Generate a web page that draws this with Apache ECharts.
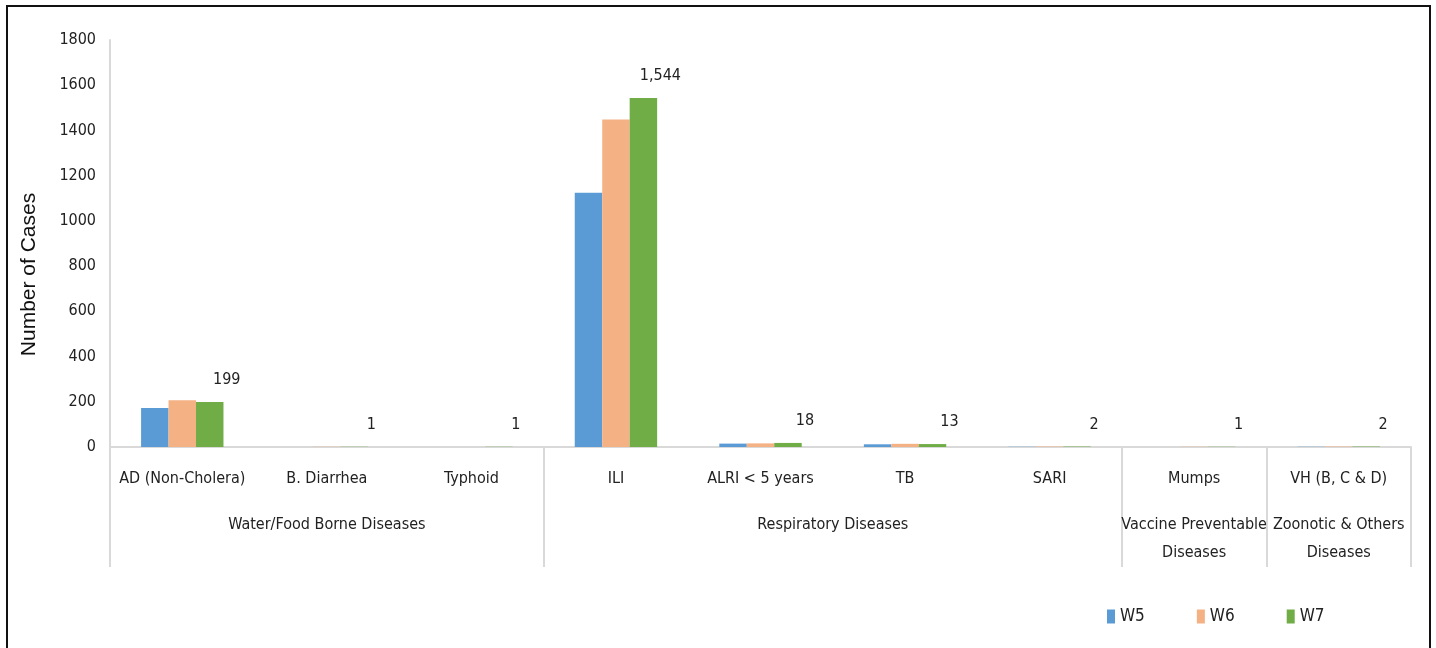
<!DOCTYPE html>
<html>
<head>
<meta charset="utf-8">
<script src="https://cdn.jsdelivr.net/npm/echarts@6/dist/echarts.min.js"></script>
<style>
  html, body { margin: 0; padding: 0; background: #fff; }
  #chart { position: absolute; left: 0; top: 0; width: 1436px; height: 648px; }
  #frame { position: absolute; left: 6px; top: 5px; width: 1421px; height: 660px;
           border: 2px solid #111; pointer-events: none; }
</style>
</head>
<body>
<div id="chart"></div>
<div id="frame"></div>
<script>
// Weekly case counts by disease, grouped by disease family
const categories = ['AD (Non-Cholera)', 'B. Diarrhea', 'Typhoid', 'ILI', 'ALRI < 5 years', 'TB', 'SARI', 'Mumps', 'VH (B, C & D)'];
const w5 = [172, 0, 0, 1124, 15, 12, 1, 0, 1];
const w6 = [207, 1, 0, 1448, 16, 14, 2, 1, 2];
const w7 = [199, 1, 1, 1544, 18, 13, 2, 1, 2];
const seriesNames = ['W5', 'W6', 'W7'];
const colors = ['#5B9BD5', '#F4B183', '#70AD47'];

// Disease families: name and number of categories in each
const groupNames = ['Water/Food Borne Diseases', 'Respiratory Diseases', 'Vaccine Preventable\nDiseases', 'Zoonotic & Others\nDiseases'];
const groupSizes = [3, 4, 1, 1];

const yTicks = [0, 200, 400, 600, 800, 1000, 1200, 1400, 1600, 1800];

// Derived: group boundary indices and label positions (in category units)
const groupStarts = [];
const groupCenters = {};
let acc = 0;
groupSizes.forEach((n, i) => {
  groupStarts.push(acc);
  groupCenters[(acc + n / 2).toFixed(1)] = groupNames[i];
  acc += n;
});

const font = '"Liberation Sans Narrow", "DejaVu Sans Condensed", "Liberation Sans", sans-serif';
const chart = echarts.init(document.getElementById('chart'), null, { renderer: 'canvas' });

const seriesData = [w5, w6, w7];
const series = seriesData.map((d, i) => ({
  name: seriesNames[i],
  type: 'bar',
  xAxisIndex: 0,
  data: d,
  barGap: '0%',
  barCategoryGap: '43%',
  itemStyle: { color: colors[i] },
  label: i === 2 ? {
    show: true,
    position: 'top',
    distance: 14,
    offset: [17, 0],
    color: '#222',
    fontFamily: font,
    fontSize: 16,
    formatter: p => p.value.toLocaleString('en-US')
  } : { show: false }
}));

chart.setOption({
  animation: false,
  backgroundColor: '#fff',
  grid: { left: 110, right: 25, top: 40, bottom: 201, containLabel: false },
  legend: {
    data: seriesNames,
    left: 1102,
    top: 603,
    itemWidth: 8,
    itemHeight: 14,
    itemGap: 52,
    icon: 'rect',
    textStyle: { fontFamily: font, fontSize: 17, color: '#222' }
  },
  xAxis: [
    {
      type: 'category',
      data: categories,
      position: 'bottom',
      axisLine: { show: true, lineStyle: { color: '#d9d9d9', width: 2 } },
      axisTick: {
        show: true,
        length: 120,
        lineStyle: { color: '#d9d9d9', width: 2 },
        interval: (idx) => groupStarts.includes(idx)
      },
      axisLabel: { margin: 24, color: '#222', fontFamily: font, fontSize: 16, interval: 0 },
      splitLine: { show: false }
    },
    {
      type: 'value',
      position: 'bottom',
      min: 0,
      max: categories.length,
      interval: 0.5,
      axisLine: { show: false },
      axisTick: { show: false },
      splitLine: { show: false },
      axisLabel: {
        margin: 64,
        color: '#222',
        fontFamily: font,
        fontSize: 16,
        lineHeight: 28,
        formatter: v => groupCenters[v.toFixed(1)] || ''
      }
    }
  ],
  yAxis: {
    type: 'value',
    min: yTicks[0],
    max: yTicks[yTicks.length - 1],
    interval: yTicks[1] - yTicks[0],
    name: 'Number of Cases',
    nameLocation: 'middle',
    nameGap: 70,
    nameRotate: 90,
    nameTextStyle: { fontFamily: '"Liberation Sans", Arial, sans-serif', fontSize: 21, color: '#111', padding: [0, 62, 0, 0] },
    axisLine: { show: true, lineStyle: { color: '#d9d9d9', width: 2 } },
    axisTick: { show: false },
    splitLine: { show: false },
    axisLabel: { margin: 14, color: '#222', fontFamily: font, fontSize: 16, formatter: v => String(v) }
  },
  series: series
});
</script>
</body>
</html>
